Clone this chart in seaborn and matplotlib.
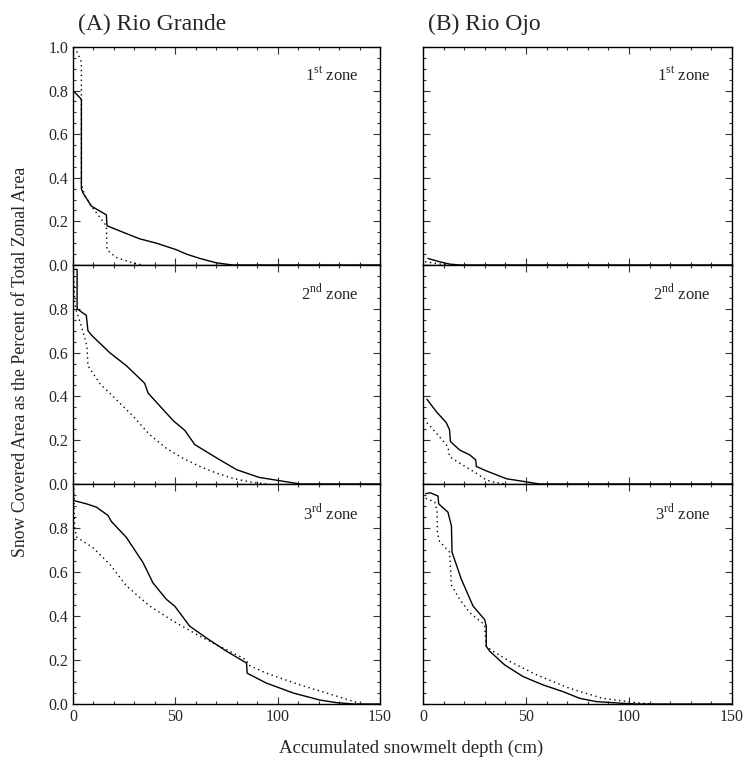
import matplotlib
matplotlib.use("Agg")
import matplotlib.pyplot as plt
import seaborn as sns
import pandas as pd
from matplotlib.ticker import MultipleLocator

sns.set_style("ticks")
plt.rcParams['font.family'] = ['Liberation Serif', 'DejaVu Serif']
plt.rcParams['mathtext.fontset'] = 'custom'
plt.rcParams['mathtext.rm'] = 'Liberation Serif'

# ---------------- data (depth in cm, snow covered fraction) ----------------
# Rio Grande
rg1_sol_x = [0.0, 4.1, 4.1, 4.9, 9.0, 16.3, 16.6, 24.5, 32.6, 40.8, 50.5, 55.4, 62.0, 70.0, 78.0, 150.0]
rg1_sol_y = [0.80, 0.76, 0.35, 0.33, 0.27, 0.23, 0.18, 0.15, 0.12, 0.10, 0.07, 0.05, 0.03, 0.01, 0.0, 0.0]
rg1_dot_x = [0.8, 3.3, 4.1, 4.1, 5.7, 9.0, 13.0, 16.3, 16.6, 21.0, 29.0, 34.0]
rg1_dot_y = [1.0, 0.95, 0.93, 0.37, 0.32, 0.27, 0.22, 0.18, 0.07, 0.035, 0.01, 0.0]

rg2_sol_x = [0.5, 2.0, 2.0, 6.5, 7.3, 9.0, 17.9, 26.1, 35.0, 36.7, 48.9, 54.6, 59.5, 70.0, 80.0, 91.0, 101.0, 111.0, 150.0]
rg2_sol_y = [0.98, 0.98, 0.80, 0.77, 0.70, 0.68, 0.60, 0.54, 0.46, 0.415, 0.29, 0.245, 0.18, 0.12, 0.065, 0.03, 0.015, 0.0, 0.0]
rg2_dot_x = [0.3, 0.8, 1.3, 4.1, 6.8, 7.3, 13.0, 21.2, 29.3, 37.5, 45.6, 53.8, 62.0, 70.0, 78.0, 86.0, 94.5]
rg2_dot_y = [0.97, 0.84, 0.80, 0.72, 0.63, 0.54, 0.46, 0.385, 0.31, 0.225, 0.163, 0.117, 0.08, 0.05, 0.026, 0.01, 0.0]

rg3_sol_x = [0.2, 0.3, 6.5, 11.4, 17.1, 18.7, 26.1, 34.2, 39.1, 45.6, 49.7, 57.0, 65.2, 75.0, 84.8, 85.1, 94.5, 107.6, 120.6, 128.8, 137.0, 150.0]
rg3_sol_y = [0.99, 0.925, 0.91, 0.895, 0.857, 0.83, 0.757, 0.643, 0.55, 0.476, 0.445, 0.354, 0.30, 0.24, 0.186, 0.14, 0.095, 0.05, 0.018, 0.006, 0.0, 0.0]
rg3_dot_x = [0.3, 0.8, 1.6, 9.8, 17.9, 26.1, 37.5, 48.9, 62.0, 68.5, 78.2, 84.8, 85.6, 94.5, 110.8, 127.0, 140.0]
rg3_dot_y = [0.98, 0.81, 0.76, 0.71, 0.636, 0.537, 0.445, 0.377, 0.308, 0.277, 0.232, 0.20, 0.178, 0.14, 0.087, 0.041, 0.003]

# Rio Ojo
ro1_sol_x = [2.4, 8.0, 13.0, 18.0, 150.0]
ro1_sol_y = [0.03, 0.015, 0.004, 0.0, 0.0]
ro1_dot_x = [1.0, 8.0, 12.0]
ro1_dot_y = [0.015, 0.005, 0.0]

ro2_sol_x = [1.9, 6.5, 11.3, 12.9, 13.3, 17.8, 22.7, 25.6, 25.9, 30.7, 40.5, 49.3, 56.6, 150.0]
ro2_sol_y = [0.387, 0.33, 0.28, 0.247, 0.194, 0.155, 0.133, 0.11, 0.08, 0.06, 0.024, 0.011, 0.0, 0.0]
ro2_dot_x = [1.9, 6.5, 12.1, 12.9, 17.8, 25.9, 30.7, 35.6, 40.5]
ro2_dot_y = [0.28, 0.232, 0.17, 0.125, 0.095, 0.049, 0.018, 0.006, 0.0]

ro3_sol_x = [1.3, 3.6, 7.3, 7.6, 12.1, 13.8, 14.1, 18.6, 24.3, 29.9, 30.7, 30.7, 32.4, 39.6, 48.5, 58.2, 68.0, 76.0, 84.0, 97.0, 103.6, 150.0]
ro3_sol_y = [0.956, 0.96, 0.945, 0.91, 0.872, 0.81, 0.69, 0.567, 0.445, 0.384, 0.354, 0.262, 0.24, 0.178, 0.125, 0.087, 0.056, 0.026, 0.011, 0.003, 0.0, 0.0]
ro3_dot_x = [1.3, 5.7, 6.8, 7.0, 8.0, 12.9, 13.8, 17.8, 22.7, 29.9, 30.7, 34.0, 42.0, 55.0, 71.0, 87.0, 103.6, 111.7]
ro3_dot_y = [0.935, 0.918, 0.88, 0.78, 0.74, 0.69, 0.54, 0.476, 0.415, 0.36, 0.262, 0.24, 0.194, 0.133, 0.072, 0.026, 0.006, 0.0]

basins = ["(A) Rio Grande", "(B) Rio Ojo"]
zone_labels = [r"1$^{\rm st}$ zone", r"2$^{\rm nd}$ zone", r"3$^{\rm rd}$ zone"]
x_ticks = [0, 50, 100, 150]
y_ticks = [0.0, 0.2, 0.4, 0.6, 0.8, 1.0]

series = {
    (0, 0): (rg1_sol_x, rg1_sol_y, rg1_dot_x, rg1_dot_y),
    (1, 0): (rg2_sol_x, rg2_sol_y, rg2_dot_x, rg2_dot_y),
    (2, 0): (rg3_sol_x, rg3_sol_y, rg3_dot_x, rg3_dot_y),
    (0, 1): (ro1_sol_x, ro1_sol_y, ro1_dot_x, ro1_dot_y),
    (1, 1): (ro2_sol_x, ro2_sol_y, ro2_dot_x, ro2_dot_y),
    (2, 1): (ro3_sol_x, ro3_sol_y, ro3_dot_x, ro3_dot_y),
}

fig = plt.figure(figsize=(7.44, 7.57), dpi=100)
lefts = [73 / 744, 423 / 744]
widths = [307 / 744, 309 / 744]
row_px = [(47, 265), (265, 484), (484, 704)]

for (r, c), (sx, sy, dx, dy) in series.items():
    top, bot = row_px[r]
    ax = fig.add_axes([lefts[c], 1 - bot / 757, widths[c], (bot - top) / 757])
    dfs = pd.DataFrame({"x": sx, "y": sy})
    dfd = pd.DataFrame({"x": dx, "y": dy})
    sns.lineplot(data=dfs, x="x", y="y", ax=ax, sort=False, estimator=None,
                 color="black", linewidth=1.0)
    sns.lineplot(data=dfd, x="x", y="y", ax=ax, sort=False, estimator=None,
                 color="black", linewidth=1.0, linestyle=(0, (1, 2.5)))
    ax.set_xlim(0, 150)
    ax.set_ylim(0, 1.0)
    ax.xaxis.set_major_locator(MultipleLocator(50))
    ax.xaxis.set_minor_locator(MultipleLocator(10))
    ax.yaxis.set_major_locator(MultipleLocator(0.2))
    ax.yaxis.set_minor_locator(MultipleLocator(0.05))
    ax.tick_params(which="both", direction="in", top=True, right=True,
                   labelsize=11.5, width=0.8, color="#333333")
    ax.tick_params(which="major", length=5)
    ax.tick_params(which="minor", length=2.5)
    ax.set_xlabel("")
    ax.set_ylabel("")
    for sp in ax.spines.values():
        sp.set_linewidth(1.0)
        sp.set_color("black")
    if r < 2:
        ax.set_xticklabels([])
    else:
        ax.set_xticks(x_ticks)
        ax.set_xticklabels([str(t) for t in x_ticks])
    if c == 1:
        ax.set_yticklabels([])
    else:
        ax.set_yticks(y_ticks)
        labs = ["%.1f" % t for t in y_ticks]
        if r > 0:
            labs[-1] = ""
        ax.set_yticklabels(labs)
    ax.text(0.93, 0.87, zone_labels[r], transform=ax.transAxes,
            ha="right", va="center", fontsize=12)
    if r == 0:
        ax.text(0.015, 1.055, basins[c], transform=ax.transAxes,
                ha="left", va="bottom", fontsize=17)

fig.text(21 / 744, 1 - 362 / 757, "Snow Covered Area as the Percent of Total Zonal Area",
         rotation=90, ha="center", va="center", fontsize=12.8)
fig.text(411 / 744, 1 - 748 / 757, "Accumulated snowmelt depth (cm)",
         ha="center", va="center", fontsize=13.5)

fig.savefig("out.png", dpi=100)
